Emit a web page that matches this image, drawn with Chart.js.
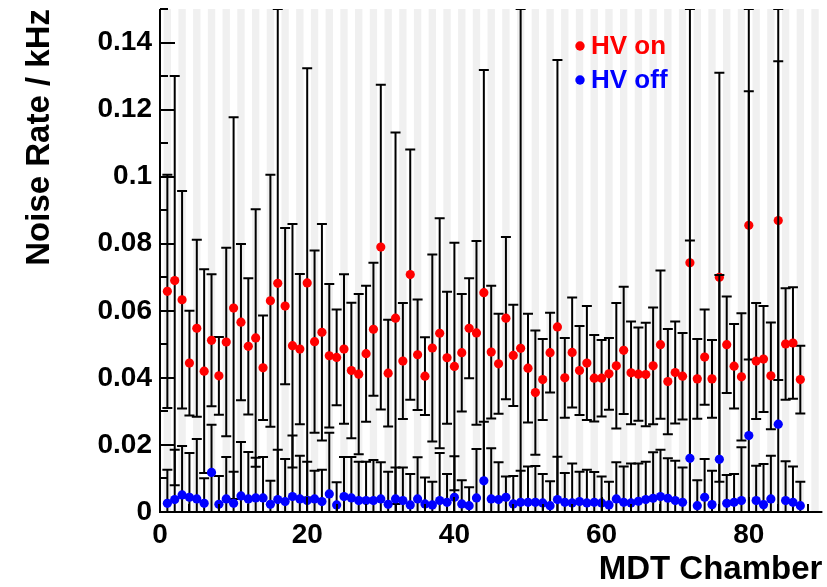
<!DOCTYPE html>
<html>
<head>
<meta charset="utf-8">
<title>MDT noise rate</title>
<script src="https://cdn.jsdelivr.net/npm/chart.js@4.4.1/dist/chart.umd.min.js"></script>
<style>
  html, body { margin: 0; padding: 0; background: #fff; }
  #noise { display: block; }
</style>
</head>
<body>
<canvas id="noise" width="827" height="587"></canvas>
<script>
const FONT = '"Liberation Sans", Arial, Helvetica, sans-serif';

const chambers = [
  1, 2, 3, 4, 5, 6, 7, 8, 9, 10, 11, 12, 13, 14, 15, 16, 17, 18, 19, 20,
  21, 22, 23, 24, 25, 26, 27, 28, 29, 30, 31, 32, 33, 34, 35, 36, 37, 38, 39, 40,
  41, 42, 43, 44, 45, 46, 47, 48, 49, 50, 51, 52, 53, 54, 55, 56, 57, 58, 59, 60,
  61, 62, 63, 64, 65, 66, 67, 68, 69, 70, 71, 72, 73, 74, 75, 76, 77, 78, 79, 80,
  81, 82, 83, 84, 85, 86, 87
];

// noise rate with high voltage on (kHz) and its error
const hvOnRate = [
  0.0658, 0.0690, 0.0633, 0.0444, 0.0548, 0.0420, 0.0512, 0.0406, 0.0507, 0.0608,
  0.0566, 0.0494, 0.0519, 0.0430, 0.0630, 0.0682, 0.0614, 0.0496, 0.0486, 0.0683,
  0.0508, 0.0536, 0.0466, 0.0461, 0.0486, 0.0422, 0.0411, 0.0472, 0.0545, 0.0790,
  0.0414, 0.0578, 0.0450, 0.0708, 0.0469, 0.0405, 0.0489, 0.0533, 0.0460, 0.0434,
  0.0475, 0.0548, 0.0534, 0.0654, 0.0477, 0.0442, 0.0578, 0.0467, 0.0488, 0.0429,
  0.0356, 0.0395, 0.0475, 0.0552, 0.0400, 0.0476, 0.0422, 0.0444, 0.0399, 0.0399,
  0.0412, 0.0436, 0.0482, 0.0415, 0.0411, 0.0410, 0.0436, 0.0499, 0.0389, 0.0416,
  0.0405, 0.0743, 0.0397, 0.0462, 0.0397, 0.0700, 0.0499, 0.0435, 0.0403, 0.0855,
  0.0450, 0.0456, 0.0406, 0.0869, 0.0501, 0.0504, 0.0395
];
const hvOnErr = [
  0.0348, 0.0610, 0.0324, 0.0156, 0.0264, 0.0304, 0.0197, 0.0116, 0.0281, 0.0569,
  0.0233, 0.0203, 0.0384, 0.0156, 0.0376, 0.0818, 0.0233, 0.0363, 0.0224, 0.0640,
  0.0272, 0.0323, 0.0214, 0.0143, 0.0223, 0.0202, 0.0239, 0.0203, 0.0198, 0.0484,
  0.0159, 0.0554, 0.0173, 0.0373, 0.0165, 0.0116, 0.0279, 0.0343, 0.0197, 0.0369,
  0.0175, 0.0149, 0.0274, 0.0664, 0.0198, 0.0149, 0.0242, 0.0151, 0.1012, 0.0162,
  0.0185, 0.0121, 0.0119, 0.0796, 0.0119, 0.0164, 0.0133, 0.0170, 0.0129, 0.0114,
  0.0107, 0.0187, 0.0190, 0.0153, 0.0139, 0.0154, 0.0174, 0.0221, 0.0157, 0.0152,
  0.0129, 0.0757, 0.0119, 0.0142, 0.0116, 0.0610, 0.0144, 0.0126, 0.0190, 0.0400,
  0.0173, 0.0158, 0.0159, 0.0475, 0.0166, 0.0166, 0.0101
];

// noise rate with high voltage off (kHz) and its error
const hvOffRate = [
  0.0026, 0.0037, 0.0051, 0.0044, 0.0039, 0.0026, 0.0118, 0.0023, 0.0039, 0.0026,
  0.0048, 0.0039, 0.0042, 0.0042, 0.0023, 0.0037, 0.0031, 0.0046, 0.0039, 0.0034,
  0.0039, 0.0031, 0.0054, 0.0021, 0.0046, 0.0042, 0.0034, 0.0034, 0.0034, 0.0039,
  0.0023, 0.0039, 0.0034, 0.0021, 0.0039, 0.0024, 0.0021, 0.0034, 0.0029, 0.0044,
  0.0024, 0.0019, 0.0042, 0.0093, 0.0039, 0.0037, 0.0044, 0.0024, 0.0029, 0.0029,
  0.0029, 0.0027, 0.0019, 0.0037, 0.0029, 0.0027, 0.0031, 0.0027, 0.0029, 0.0027,
  0.0021, 0.0039, 0.0029, 0.0027, 0.0032, 0.0037, 0.0041, 0.0046, 0.0041, 0.0034,
  0.0029, 0.0160, 0.0019, 0.0044, 0.0022, 0.0157, 0.0026, 0.0029, 0.0034, 0.0228,
  0.0034, 0.0022, 0.0039, 0.0262, 0.0034, 0.0029, 0.0019
];
const hvOffErr = [
  0.0100, 0.0149, 0.0146, 0.0132, 0.0179, 0.0075, 0.0142, 0.0084, 0.0125, 0.0094,
  0.0161, 0.0140, 0.0120, 0.0122, 0.0070, 0.0149, 0.0127, 0.0182, 0.0129, 0.0116,
  0.0084, 0.0095, 0.0182, 0.0068, 0.0118, 0.0122, 0.0116, 0.0116, 0.0121, 0.0109,
  0.0097, 0.0094, 0.0099, 0.0092, 0.0124, 0.0079, 0.0069, 0.0142, 0.0084, 0.0122,
  0.0071, 0.0055, 0.0146, 0.0176, 0.0151, 0.0111, 0.0062, 0.0083, 0.0094, 0.0107,
  0.0108, 0.0086, 0.0073, 0.0128, 0.0087, 0.0118, 0.0089, 0.0099, 0.0090, 0.0079,
  0.0069, 0.0109, 0.0107, 0.0118, 0.0113, 0.0113, 0.0137, 0.0140, 0.0119, 0.0119,
  0.0104, 0.0650, 0.0076, 0.0114, 0.0101, 0.0550, 0.0084, 0.0084, 0.0159, 0.1272,
  0.0104, 0.0121, 0.0129, 0.1238, 0.0117, 0.0107, 0.0071
];

const xTicks = [0, 20, 40, 60, 80];
const yTicks = [0, 0.02, 0.04, 0.06, 0.08, 0.1, 0.12, 0.14];

function points(rates) {
  return chambers.map((c, i) => ({ x: c, y: rates[i] }));
}

// keep the frame exactly where the axis boxes put it
function noEdgePadding(s) {
  s.paddingTop = 0;
  s.paddingBottom = 0;
  s.paddingLeft = 0;
  s.paddingRight = 0;
}

// light grey stripe behind every other chamber
const stripes = {
  id: 'stripes',
  beforeDatasetsDraw(chart) {
    const { ctx, chartArea: a, scales: { x } } = chart;
    ctx.save();
    ctx.beginPath();
    ctx.rect(a.left, a.top, a.right - a.left, a.bottom - a.top);
    ctx.clip();
    ctx.fillStyle = '#f0f0f0';
    for (let k = 1; k <= x.max; k += 2) {
      const l = x.getPixelForValue(k - 0.5);
      const r = x.getPixelForValue(k + 0.5);
      ctx.fillRect(l, a.top, r - l, a.bottom - a.top);
    }
    ctx.restore();
  }
};

// vertical error bars with end caps, drawn right before each dataset's markers
const errorBars = {
  id: 'errorBars',
  beforeDatasetDraw(chart, args) {
    const ds = chart.data.datasets[args.index];
    const { ctx, chartArea: a, scales: { x, y } } = chart;
    ctx.save();
    ctx.beginPath();
    ctx.rect(a.left, a.top, a.right - a.left, a.bottom - a.top);
    ctx.clip();
    ctx.strokeStyle = '#000';
    ctx.lineWidth = 2;
    ds.data.forEach((p, i) => {
      const px = x.getPixelForValue(p.x);
      const hi = y.getPixelForValue(p.y + ds.errors[i]);
      const lo = y.getPixelForValue(p.y - ds.errors[i]);
      ctx.beginPath();
      ctx.moveTo(px, hi);
      ctx.lineTo(px, lo);
      ctx.moveTo(px - 5, hi);
      ctx.lineTo(px + 5, hi);
      ctx.moveTo(px - 5, lo);
      ctx.lineTo(px + 5, lo);
      ctx.stroke();
    });
    ctx.restore();
  }
};

// frame axes with inward tick marks
const axes = {
  id: 'axes',
  afterDatasetsDraw(chart) {
    const { ctx, chartArea: a, scales: { x, y } } = chart;
    ctx.save();
    ctx.strokeStyle = '#000';
    ctx.lineWidth = 2;
    ctx.beginPath();
    ctx.moveTo(a.left, a.top);
    ctx.lineTo(a.left, a.bottom);
    ctx.lineTo(a.right, a.bottom);
    for (let v = 0; v <= 0.15 + 1e-9; v += 0.01) {
      const py = Math.round(y.getPixelForValue(v));
      const major = Math.round(v * 100) % 2 === 0;
      ctx.moveTo(a.left, py);
      ctx.lineTo(a.left + (major ? 15 : 8), py);
    }
    for (let v = 0; v <= x.max; v += 4) {
      const px = Math.round(x.getPixelForValue(v));
      const major = v % 20 === 0;
      ctx.moveTo(px, a.bottom);
      ctx.lineTo(px, a.bottom - (major ? 15 : 8));
    }
    ctx.stroke();
    ctx.restore();
  }
};

// coloured legend entries in the upper part of the frame
const legendText = {
  id: 'legendText',
  afterDraw(chart) {
    const { ctx, chartArea: a } = chart;
    const entries = [
      { text: 'HV on', color: '#ff0000', dy: 37 },
      { text: 'HV off', color: '#0000ff', dy: 71 }
    ];
    const lx = a.left + 420;
    ctx.save();
    ctx.font = 'bold 26px ' + FONT;
    ctx.textBaseline = 'middle';
    entries.forEach(e => {
      ctx.fillStyle = e.color;
      ctx.beginPath();
      ctx.arc(lx, a.top + e.dy, 4.7, 0, Math.PI * 2);
      ctx.fill();
      ctx.fillText(e.text, lx + 11, a.top + e.dy + 1);
    });
    ctx.restore();
  }
};

new Chart(document.getElementById('noise'), {
  type: 'scatter',
  data: {
    datasets: [
      {
        label: 'HV off',
        data: points(hvOffRate),
        errors: hvOffErr,
        backgroundColor: '#0000ff',
        borderWidth: 0,
        pointRadius: 4.6,
        order: 1
      },
      {
        label: 'HV on',
        data: points(hvOnRate),
        errors: hvOnErr,
        backgroundColor: '#ff0000',
        borderWidth: 0,
        pointRadius: 4.6,
        order: 2
      }
    ]
  },
  options: {
    responsive: false,
    animation: false,
    devicePixelRatio: 1,
    layout: { padding: { top: 9, right: 4, left: 0, bottom: 0 } },
    plugins: {
      legend: { display: false },
      tooltip: { enabled: false }
    },
    scales: {
      x: {
        type: 'linear',
        min: 0,
        max: 90,
        afterFit: s => { s.height = 75; noEdgePadding(s); },
        afterBuildTicks: s => { s.ticks = xTicks.map(v => ({ value: v })); },
        grid: { display: false, drawTicks: false },
        border: { display: false },
        ticks: {
          color: '#000',
          padding: 6,
          maxRotation: 0,
          font: { family: FONT, size: 28, weight: 'bold' }
        },
        title: {
          display: true,
          text: 'MDT Chamber',
          align: 'end',
          color: '#000',
          font: { family: FONT, size: 33, weight: 'bold', lineHeight: 1 },
          padding: { top: 0, bottom: 1 }
        }
      },
      y: {
        type: 'linear',
        min: 0,
        max: 0.15,
        afterFit: s => { s.width = 160; noEdgePadding(s); },
        afterBuildTicks: s => { s.ticks = yTicks.map(v => ({ value: v })); },
        grid: { display: false, drawTicks: false },
        border: { display: false },
        ticks: {
          color: '#000',
          padding: 8,
          font: { family: FONT, size: 28, weight: 'bold' },
          callback: v => String(+v.toFixed(2))
        },
        title: {
          display: true,
          text: 'Noise Rate / kHz',
          align: 'end',
          color: '#000',
          font: { family: FONT, size: 33, weight: 'bold', lineHeight: 1 },
          padding: { top: 23, bottom: 0 }
        }
      }
    }
  },
  plugins: [stripes, errorBars, axes, legendText]
});
</script>
</body>
</html>
